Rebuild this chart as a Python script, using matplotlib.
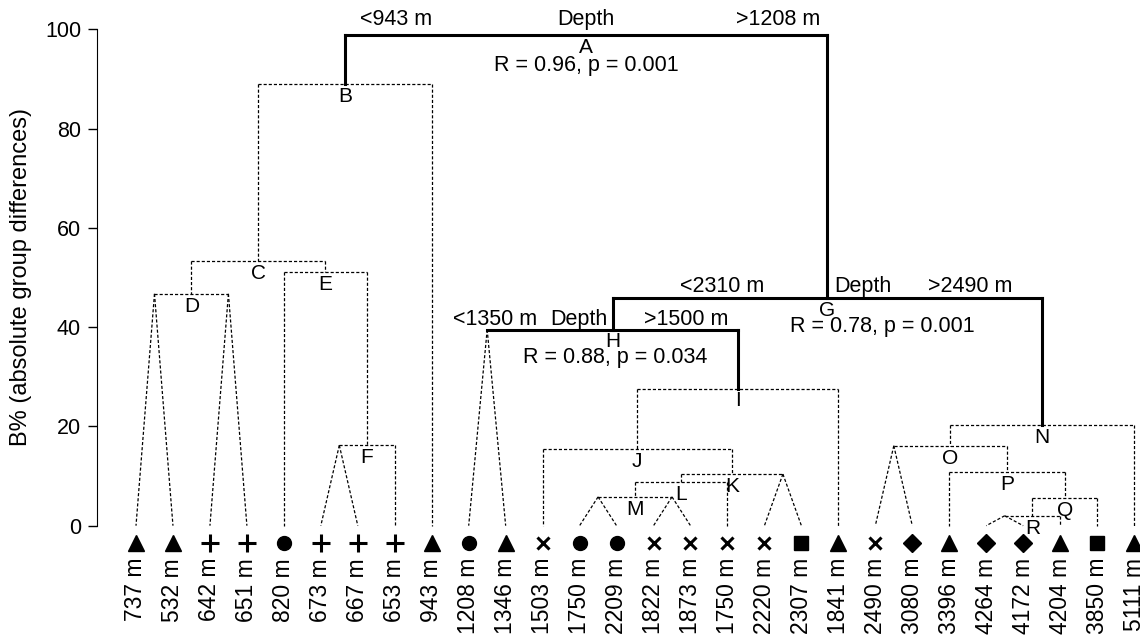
import matplotlib
matplotlib.use('Agg')
import matplotlib.pyplot as plt

plt.rcParams['font.family'] = ['Liberation Sans', 'DejaVu Sans']

# leaves, left to right
leaf_labels = ['737 m', '532 m', '642 m', '651 m', '820 m', '673 m', '667 m', '653 m',
               '943 m', '1208 m', '1346 m', '1503 m', '1750 m', '2209 m', '1822 m',
               '1873 m', '1750 m', '2220 m', '2307 m', '1841 m', '2490 m', '3080 m',
               '3396 m', '4264 m', '4172 m', '4204 m', '3850 m', '5111 m']
leaf_markers = ['^', '^', '+', '+', 'o', '+', '+', '+', '^', 'o', '^', 'x', 'o', 'o',
                'x', 'x', 'x', 'x', 's', '^', 'x', 'D', '^', 'D', 'D', '^', 's', '^']

# nodes: height (B%) and children (node name, leaf index, or tuple of leaves joined in a fan)
node_heights = {'A': 98.8, 'B': 89.0, 'C': 53.3, 'D': 46.7, 'E': 51.1, 'F': 16.2,
                'G': 45.9, 'H': 39.5, 'I': 27.6, 'J': 15.5, 'K': 10.4, 'L': 8.8,
                'M': 5.8, 'N': 20.3, 'O': 16.1, 'P': 10.8, 'Q': 5.6, 'R': 2.0}
node_children = {'A': ('B', 'G'), 'B': ('C', 8), 'C': ('D', 'E'), 'D': ((0, 1), (2, 3)),
                 'E': (4, 'F'), 'F': ((5, 6), 7), 'G': ('H', 'N'), 'H': ((9, 10), 'I'),
                 'I': ('J', 19), 'J': (11, 'K'), 'K': ('L', (17, 18)), 'L': ('M', 16),
                 'M': ((12, 13), (14, 15)), 'N': ('O', 27), 'O': ((20, 21), 'P'),
                 'P': (22, 'Q'), 'Q': ('R', 26), 'R': ((23, 24), 25)}
solid_nodes = ['A', 'G', 'H']

# split annotations: (text, x, y)
split_texts = [('<943 m', 7.03, 101.9), ('Depth', 12.18, 101.9), ('>1208 m', 17.37, 101.9),
               ('R = 0.96, p = 0.001', 12.18, 92.8),
               ('<2310 m', 15.85, 48.1), ('Depth', 19.67, 48.1), ('>2490 m', 22.57, 48.1),
               ('R = 0.78, p = 0.001', 20.18, 40.2),
               ('<1350 m', 9.71, 41.6), ('Depth', 11.99, 41.6), ('>1500 m', 14.88, 41.6),
               ('R = 0.88, p = 0.034', 12.96, 33.8)]

SOLID = dict(color='black', lw=2.2, solid_capstyle='projecting', zorder=3)
DOT = dict(color='black', lw=0.9, linestyle=(0, (2.5, 1.6)), zorder=2)


def xpos(c):
    if isinstance(c, str):
        return sum(xpos(k) for k in node_children[c]) / 2
    if isinstance(c, tuple):
        return sum(c) / len(c)
    return c


fig = plt.figure(figsize=(11.4, 6.41), dpi=100)
ax = fig.add_axes([97 / 1140, 1 - 550.5 / 641, 1 - 97 / 1140, (550.5 - 29.3) / 641])


def draw(name):
    h = node_heights[name]
    style = SOLID if name in solid_nodes else DOT
    xs = [xpos(c) for c in node_children[name]]
    ax.plot(xs, [h, h], **style)
    ax.annotate(name, (xpos(name), h), xytext=(0, -2), textcoords='offset points',
                ha='center', va='top', fontsize=15)
    for c, x in zip(node_children[name], xs):
        if isinstance(c, str):
            ax.plot([x, x], [h, node_heights[c]], **style)
            draw(c)
        elif isinstance(c, tuple):
            for leaf in c:
                ax.plot([x, leaf], [h, 0], **DOT)
        else:
            ax.plot([x, x], [h, 0], **DOT)


draw('A')

for text, x, y in split_texts:
    ax.text(x, y, text, ha='center', va='center', fontsize=15.5, clip_on=False)

for i, (lab, m) in enumerate(zip(leaf_labels, leaf_markers)):
    size = {'^': 12, '+': 13, 'o': 10, 'x': 9, 's': 9.5, 'D': 9}[m]
    ax.plot(i, -3.4, marker=m, ms=size, color='black', mew=2.2 if m in '+x' else 1,
            clip_on=False, zorder=4)
    ax.text(i, -6.5, lab, rotation=90, ha='center', va='top', fontsize=16.5, clip_on=False)

ax.set_xlim(-1.055, 27.16)
ax.set_ylim(-5, 100)
ax.set_yticks([0, 20, 40, 60, 80, 100])
ax.set_xticks([])
ax.tick_params(axis='y', labelsize=15.5, length=6.5, width=1, pad=5)
for s in ['top', 'right', 'bottom']:
    ax.spines[s].set_visible(False)
ax.spines['left'].set_bounds(0, 100)
ax.set_ylabel('B% (absolute group differences)', fontsize=17)
ax.yaxis.set_label_coords(-0.0623, 0.525)

fig.savefig('out.png', dpi=100)
